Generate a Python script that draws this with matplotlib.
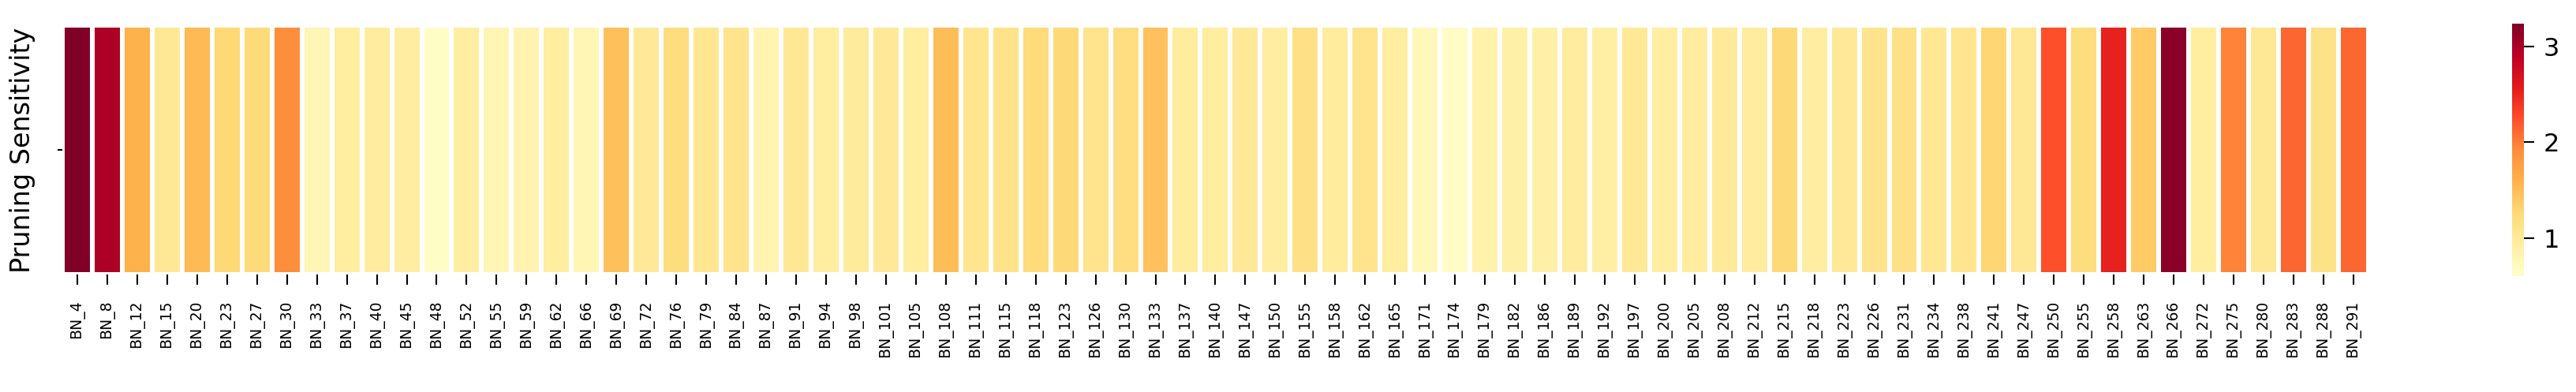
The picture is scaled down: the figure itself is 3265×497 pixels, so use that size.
import matplotlib
matplotlib.use("Agg")
import matplotlib.pyplot as plt
import numpy as np
import seaborn as sns

layers = [4, 8, 12, 15, 20, 23, 27, 30, 33, 37, 40, 45, 48, 52, 55, 59, 62, 66, 69,
          72, 76, 79, 84, 87, 91, 94, 98, 101, 105, 108, 111, 115, 118, 123, 126, 130,
          133, 137, 140, 147, 150, 155, 158, 162, 165, 171, 174, 179, 182, 186, 189,
          192, 197, 200, 205, 208, 212, 215, 218, 223, 226, 231, 234, 238, 241, 247,
          250, 255, 258, 263, 266, 272, 275, 280, 283, 288, 291]
labels = [f"BN_{n}" for n in layers]

sensitivity = [3.24, 3.00, 1.60, 1.02, 1.52, 1.26, 1.23, 1.92, 0.78, 0.94, 0.95, 0.92,
               0.65, 0.92, 0.78, 0.82, 0.93, 0.77, 1.47,
               1.00, 1.20, 1.05, 1.08, 0.80, 1.02, 0.94, 0.97, 1.00, 0.94, 1.50, 1.07,
               1.10, 1.22, 1.25, 1.08, 1.18, 1.46, 0.96, 0.93, 1.00,
               0.92, 1.13, 0.96, 1.08, 0.94, 0.73, 0.66, 0.84, 0.88, 0.88, 0.95, 0.89,
               1.01, 0.92, 0.95, 0.98, 0.95, 1.25, 0.92, 1.00, 1.08,
               1.13, 1.03, 1.06, 1.28, 1.02, 2.24, 1.20, 2.53, 1.38, 3.18, 0.93, 1.97,
               1.02, 2.12, 1.12, 2.12]

data = np.array(sensitivity).reshape(1, -1)

fig = plt.figure(figsize=(32.65, 4.97), dpi=100)
ax = fig.add_axes([0.0242, 0.2998, 0.8952, 0.6358])
cax = fig.add_axes([0.9752, 0.2958, 0.0046, 0.6438])

sns.heatmap(data, ax=ax, cbar_ax=cax, cmap="YlOrRd", linewidths=3, linecolor="white",
            xticklabels=labels, yticklabels=[""], vmin=0.6, vmax=3.24)

ax.set_ylabel("Pruning Sensitivity", fontsize=24, labelpad=17)
ax.tick_params(axis="x", labelsize=13.5, rotation=90, length=9.5, width=1.5, pad=14)
ax.tick_params(axis="y", length=4, width=1.5)
cax.set_yticks([1, 2, 3])
cax.tick_params(labelsize=23, length=9.5, width=1.5, pad=8)
cax.collections[0].set_rasterized(False)
for s in cax.spines.values():
    s.set_visible(False)

fig.savefig("out.png", dpi=100)
